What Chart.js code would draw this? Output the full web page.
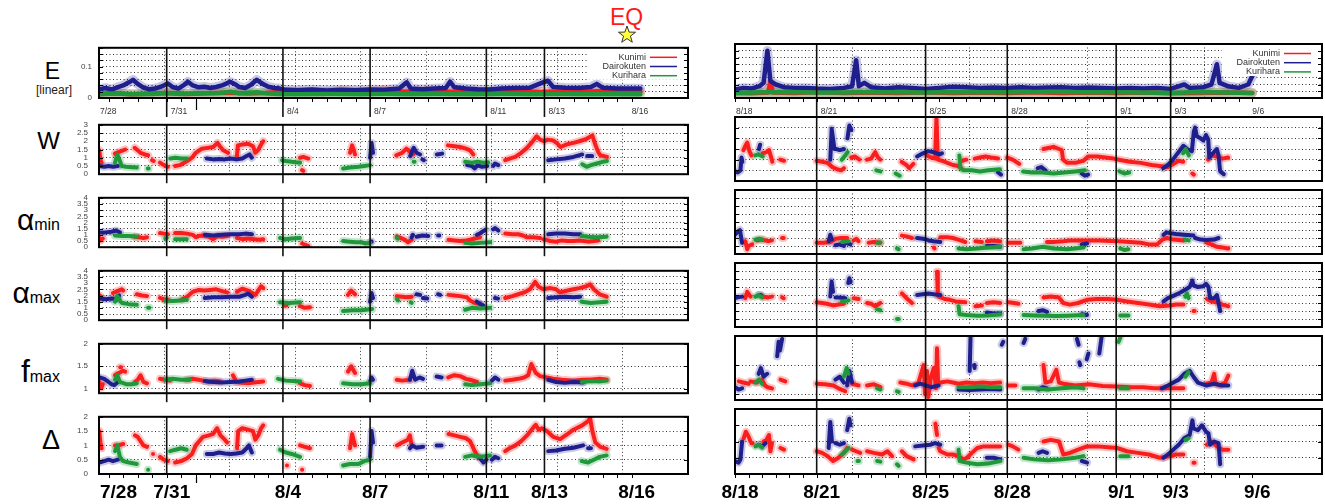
<!DOCTYPE html>
<html><head><meta charset="utf-8">
<script src="https://cdn.jsdelivr.net/npm/chart.js@4"></script>
<style>
html,body{margin:0;padding:0;background:#fff}
body{position:relative;width:1325px;height:504px;overflow:hidden;font-family:"Liberation Sans",Arial,sans-serif}
canvas{position:absolute}
.lab{position:absolute;color:#000;white-space:nowrap}
</style></head><body>
<div class="lab" style="right:1265px;top:60.3px;font-size:23px;line-height:23px">E</div>
<div class="lab" style="left:36px;top:84px;font-size:12px;line-height:12px;color:#222">[linear]</div>
<div class="lab" style="right:1265px;top:128.6px;font-size:24px;line-height:24px">W</div>
<div class="lab" style="right:1265px;top:204.6px;font-size:30px;line-height:30px">α<span style="font-size:16px">min</span></div>
<div class="lab" style="right:1265px;top:277.9px;font-size:30px;line-height:30px">α<span style="font-size:16px">max</span></div>
<div class="lab" style="right:1265px;top:354.6px;font-size:32px;line-height:32px">f<span style="font-size:16px">max</span></div>
<div class="lab" style="right:1265px;top:426.5px;font-size:27px;line-height:27px">Δ</div>
<div class="lab" style="left:610px;top:6.3px;font-size:23px;line-height:23px;color:#ff1a1a">EQ</div>
<svg style="position:absolute;left:616.7px;top:25px" width="20" height="20"><polygon points="10,1 12.12,7.09 18.56,7.22 13.42,11.11 15.29,17.28 10,13.6 4.71,17.28 6.58,11.11 1.44,7.22 7.88,7.09" fill="#ffff3a" stroke="#333" stroke-width="1"/></svg>
<script>
// ---------------- categories / tick labels ----------------
const SERIES = ['Kunimi', 'Dairokuten', 'Kurihara'];
const LEFT_DATES = ['7/28', '7/31', '8/4', '8/7', '8/11', '8/13', '8/16'];
const LEFT_DATE_DAYS = [0, 3, 7, 10, 14, 16, 19];      // days since 7/28 0:00
const RIGHT_DATES = ['8/18', '8/21', '8/25', '8/28', '9/1', '9/3', '9/6'];
const RIGHT_DATE_DAYS = [0, 3, 7, 10, 14, 16, 19];     // days since 8/18 0:00
const LEFT_RANGE = [0.67, 20.94];
const RIGHT_RANGE = [0, 21.56];
const LEFT_MARK_DAYS = [4];

// ---------------- E (linear) ----------------
const E_L_kunimi = [[[0.67,0.013],[1.2,0.015],[1.8,0.012],[2.5,0.014],[3.1,0.016],[3.7,0.013],[4.4,0.015],[5.2,0.017],[5.8,0.014],[6.4,0.016],[7.0,0.02],[7.6,0.021],[8.3,0.019],[9.0,0.022],[9.8,0.02],[10.5,0.023],[11.2,0.02],[12.0,0.022],[12.8,0.019],[13.5,0.021],[14.2,0.02],[15.0,0.022],[15.8,0.019],[16.5,0.021],[17.3,0.02],[18.1,0.022],[18.8,0.02],[19.3,0.02]]];
const E_L_dairokuten = [[[0.67,0.028],[0.9,0.032],[1.1,0.027],[1.3,0.034],[1.5,0.04],[1.7,0.05],[1.84,0.058],[2.0,0.045],[2.2,0.033],[2.4,0.028],[2.6,0.03],[2.8,0.036],[3.04,0.046],[3.2,0.035],[3.4,0.03],[3.6,0.042],[3.73,0.052],[3.9,0.04],[4.1,0.034],[4.3,0.036],[4.5,0.032],[4.7,0.035],[4.9,0.04],[5.05,0.046],[5.18,0.052],[5.35,0.044],[5.5,0.035],[5.7,0.032],[5.9,0.042],[6.1,0.058],[6.3,0.045],[6.5,0.036],[6.7,0.032],[6.9,0.03],[7.1,0.026],[7.5,0.025],[8.0,0.027],[8.5,0.024],[9.0,0.026],[9.5,0.025],[10.0,0.027],[10.5,0.026],[11.0,0.03],[11.26,0.05],[11.4,0.03],[11.8,0.028],[12.2,0.03],[12.6,0.032],[12.75,0.052],[12.9,0.034],[13.3,0.03],[13.7,0.028],[14.1,0.027],[14.5,0.03],[15.0,0.032],[15.5,0.033],[15.95,0.05],[16.12,0.055],[16.3,0.035],[16.7,0.033],[17.2,0.032],[17.6,0.035],[17.8,0.045],[18.0,0.033],[18.5,0.03],[19.0,0.03],[19.3,0.03]]];
const E_L_kurihara = [[[0.67,0.012],[1.2,0.014],[1.8,0.012],[2.5,0.013],[3.0,0.016],[3.5,0.013],[4.2,0.015],[4.8,0.016],[5.2,0.02],[5.5,0.015],[6.1,0.018],[6.5,0.014],[7.0,0.012],[7.5,0.012],[8.5,0.013],[9.5,0.012],[10.5,0.013],[11.5,0.012],[12.5,0.013],[13.5,0.012],[14.5,0.013],[15.5,0.012],[16.5,0.013],[17.5,0.012],[18.5,0.013],[19.3,0.012]]];
const E_R_kunimi = [[[0,0.015],[0.6,0.014],[1.2,0.016],[1.3,0.045],[1.4,0.016],[2.2,0.015],[3.0,0.018],[4.0,0.015],[5.0,0.016],[6.0,0.015],[7.0,0.017],[8.0,0.015],[9.0,0.016],[10.0,0.015],[11.0,0.017],[12.0,0.015],[13.0,0.016],[14.0,0.015],[15.0,0.016],[16.0,0.014],[17.0,0.015],[18.0,0.016],[19.0,0.015]]];
const E_R_dairokuten = [[[0,0.025],[0.3,0.03],[0.6,0.028],[0.9,0.035],[1.05,0.045],[1.19,0.14],[1.3,0.05],[1.5,0.04],[1.8,0.032],[2.2,0.03],[2.6,0.03],[3.0,0.028],[3.5,0.027],[4.0,0.03],[4.3,0.035],[4.45,0.112],[4.55,0.035],[4.75,0.045],[5.0,0.032],[5.5,0.028],[6.0,0.032],[6.5,0.03],[7.0,0.027],[7.5,0.03],[8.0,0.033],[8.5,0.032],[9.0,0.03],[9.5,0.031],[10.0,0.03],[10.5,0.032],[11.0,0.03],[11.5,0.031],[12.0,0.032],[12.5,0.03],[13.0,0.031],[13.5,0.03],[14.0,0.028],[14.5,0.03],[15.0,0.028],[15.5,0.03],[16.0,0.027],[16.5,0.04],[16.7,0.03],[17.2,0.032],[17.5,0.04],[17.6,0.07],[17.7,0.1],[17.8,0.045],[18.1,0.035],[18.5,0.03],[18.85,0.04],[19.0,0.065]]];
const E_R_kurihara = [[[0,0.015],[1.0,0.017],[2.0,0.018],[3.0,0.016],[4.0,0.016],[5.0,0.018],[6.0,0.017],[7.0,0.016],[8.0,0.018],[9.0,0.017],[10.0,0.017],[11.0,0.018],[12.0,0.018],[13.0,0.017],[14.0,0.017],[15.0,0.016],[16.0,0.015],[17.0,0.018],[18.0,0.016],[19.0,0.015]]];

// ---------------- W ----------------
const W_L_kunimi = [
 [[0.68,1.45],[0.72,0.9],[0.76,0.7]],
 [[1.22,1.25],[1.35,1.35],[1.5,1.45],[1.57,1.5]],
 [[1.9,1.6],[2.0,1.45],[2.1,1.3],[2.25,1.2],[2.36,1.15]],
 [[2.5,0.85],[2.55,0.8]],
 [[2.77,0.7],[2.9,0.55],[3.04,0.45]],
 [[3.29,0.5],[3.45,0.55],[3.6,0.7],[3.75,0.85],[3.87,1.0],[4.0,1.3],[4.21,1.55],[4.4,1.6],[4.6,1.65],[4.75,1.9],[4.85,1.65],[4.95,1.45],[5.11,1.3]],
 [[5.41,1.0],[5.45,1.75],[5.6,1.8],[5.8,1.85],[5.97,1.7],[6.05,1.3],[6.14,1.45],[6.25,1.8],[6.32,2.0]],
 [[7.59,1.0],[7.7,1.05],[7.87,0.95]],
 [[7.66,0.25],[7.7,0.2]],
 [[9.31,1.3],[9.38,1.75],[9.43,1.5],[9.48,1.2]],
 [[10.9,1.15],[11.1,1.3],[11.25,1.55],[11.35,1.4],[11.48,1.2]],
 [[12.68,1.75],[12.9,1.7],[13.1,1.65],[13.3,1.55],[13.44,1.45],[13.55,1.2]],
 [[14.65,0.85],[14.8,0.95],[15.0,1.05],[15.2,1.3],[15.4,1.6],[15.55,1.9],[15.73,2.3],[15.85,2.1],[16.0,2.0],[16.1,2.1],[16.3,2.05],[16.45,1.85],[16.55,1.65],[16.75,1.8],[17.0,1.9],[17.2,2.0],[17.45,2.15],[17.65,2.35],[17.75,1.8],[17.85,1.35],[17.92,1.15],[18.15,1.05]]];
const W_L_dairokuten = [
 [[0.68,0.5],[0.85,0.45],[1.0,0.5],[1.15,0.45],[1.32,0.5]],
 [[4.38,0.95],[4.6,0.9],[4.8,0.92],[5.0,0.9],[5.2,0.95],[5.4,0.9],[5.6,0.95],[5.75,1.1],[5.85,1.2],[5.93,1.0]],
 [[10.0,1.0],[10.05,1.9],[10.1,1.3]],
 [[11.38,1.1],[11.5,1.6],[11.6,1.3],[11.72,1.2]],
 [[11.8,0.9],[11.85,0.85]],
 [[12.3,1.2],[12.48,1.25]],
 [[13.34,0.55],[13.5,0.5],[13.6,0.35],[13.7,0.55],[13.85,0.45],[14.03,0.5]],
 [[14.24,0.5],[14.3,0.65],[14.41,0.55]],
 [[16.13,0.85],[16.4,0.9],[16.7,0.95],[17.0,1.05],[17.3,1.2]],
 [[17.47,1.1],[17.64,1.1]]];
const W_L_kurihara = [
 [[1.22,0.7],[1.3,1.2],[1.39,0.8],[1.45,0.5],[1.6,0.45],[1.8,0.42],[1.97,0.4]],
 [[2.35,0.35],[2.38,0.35]],
 [[3.12,0.95],[3.3,1.0],[3.5,0.95],[3.69,0.95]],
 [[6.97,0.85],[7.1,0.8],[7.3,0.75],[7.45,0.72],[7.59,0.7]],
 [[9.07,0.35],[9.3,0.4],[9.6,0.45],[9.8,0.5],[10.0,0.55]],
 [[11.5,0.75],[11.53,0.75]],
 [[13.27,0.75],[13.5,0.7],[13.7,0.75],[13.9,0.7],[14.06,0.72]],
 [[17.3,0.6],[17.45,0.45],[17.6,0.55],[17.8,0.65],[18.0,0.75],[18.15,0.8]]];
const W_R_kunimi = [
 [[0.31,1.45],[0.4,1.7],[0.45,1.8],[0.53,1.4],[0.6,1.2]],
 [[1.02,1.3],[1.15,1.35],[1.25,1.45],[1.33,1.1],[1.37,0.9]],
 [[1.66,1.0],[1.8,0.95]],
 [[3.0,0.95],[3.2,0.9],[3.4,0.85],[3.58,0.65],[3.75,0.55],[3.9,0.5],[4.0,0.6]],
 [[4.27,1.1],[4.4,1.15],[4.57,1.0]],
 [[4.85,1.0],[5.0,1.05],[5.15,1.35],[5.25,1.1],[5.34,1.0]],
 [[6.12,0.9],[6.3,0.75],[6.4,0.6],[6.55,0.8]],
 [[7.04,1.2],[7.2,1.1],[7.35,1.05],[7.4,3.0],[7.45,1.0],[7.6,0.95],[7.8,0.85],[8.0,0.75],[8.2,0.7],[8.31,0.6]],
 [[8.35,0.95],[8.5,1.0]],
 [[8.81,1.05],[9.0,1.1],[9.2,1.15],[9.4,1.1],[9.66,1.05]],
 [[10.0,1.1],[10.2,1.0],[10.44,0.8]],
 [[11.33,1.5],[11.5,1.55],[11.7,1.6],[11.9,1.5],[12.0,1.45],[12.05,1.0],[12.2,0.85],[12.5,0.85],[12.8,0.95],[12.97,1.15],[13.3,1.15],[13.6,1.1],[13.9,1.05],[14.1,1.0],[14.5,0.9],[14.9,0.85],[15.3,0.75],[15.6,0.7],[15.9,0.65],[16.1,0.8],[16.3,0.95],[16.46,0.9]],
 [[16.8,0.35],[16.85,0.3]],
 [[17.38,1.0],[17.5,1.2],[17.7,1.15],[17.9,1.05],[18.11,1.1]]];
const W_R_dairokuten = [
 [[0.0,0.45],[0.1,0.4],[0.2,0.5],[0.24,1.1],[0.27,0.9]],
 [[0.88,1.5],[0.92,1.7]],
 [[3.5,1.0],[3.55,2.45],[3.6,2.0],[3.65,1.5]],
 [[3.71,1.5],[3.85,1.45],[4.0,1.5]],
 [[4.13,2.0],[4.2,2.6],[4.27,2.4]],
 [[6.69,1.15],[6.9,1.3],[7.1,1.4],[7.3,1.35],[7.5,1.25],[7.6,1.3]],
 [[9.66,0.4],[9.77,0.3]],
 [[11.12,0.6],[11.25,0.65],[11.4,0.5]],
 [[12.74,0.35],[12.85,0.25],[12.97,0.3]],
 [[15.73,0.6],[15.9,0.75],[16.05,0.95],[16.2,1.2],[16.35,1.45],[16.47,1.65],[16.6,1.5],[16.78,1.4],[16.85,2.3],[16.9,2.5],[16.96,2.1],[17.1,2.0],[17.2,1.9],[17.3,2.15],[17.38,1.95],[17.42,1.1],[17.55,1.3],[17.7,1.5],[17.76,1.2],[17.82,0.45],[17.95,0.32]]];
const W_R_kurihara = [
 [[0.74,1.2],[0.85,1.25],[1.02,1.15]],
 [[3.92,1.0],[4.05,1.2],[4.14,1.35]],
 [[5.19,0.5],[5.34,0.45]],
 [[5.9,0.35],[6.05,0.25]],
 [[8.24,1.2],[8.28,0.6],[8.4,0.5],[8.7,0.5],[9.0,0.45],[9.3,0.5],[9.73,0.55]],
 [[10.58,0.45],[10.9,0.4],[11.3,0.4],[11.7,0.35],[12.1,0.4],[12.5,0.45],[12.85,0.5]],
 [[14.12,0.45],[14.3,0.35],[14.48,0.4]],
 [[16.46,1.3],[16.55,1.5],[16.67,1.2]]];

// ---------------- alpha min ----------------
const AMIN_L_kunimi = [
 [[0.65,0.9],[0.72,0.55],[0.8,0.7]],
 [[1.91,0.85],[2.05,0.8],[2.2,0.75],[2.32,0.8]],
 [[2.77,1.15],[2.9,1.1],[3.04,1.05]],
 [[3.29,1.15],[3.5,1.15],[3.7,1.1],[3.9,1.0],[4.0,0.8],[4.1,0.9],[4.25,0.95],[4.45,0.85],[4.6,0.65],[4.75,0.9],[4.9,0.85],[5.08,0.9]],
 [[5.42,0.75],[5.6,0.65],[5.8,0.7],[6.0,0.65],[6.2,0.6],[6.32,0.65]],
 [[7.66,0.3],[7.75,0.2],[7.87,0.1]],
 [[10.92,0.85],[11.05,0.75],[11.2,0.6],[11.3,0.4],[11.43,0.6]],
 [[12.7,0.6],[12.9,0.55],[13.1,0.5],[13.3,0.55],[13.44,0.6],[13.6,0.7],[13.78,0.8]],
 [[14.65,1.1],[14.9,1.05],[15.1,1.05],[15.26,0.95],[15.4,0.8],[15.6,0.8],[15.85,0.75]],
 [[15.96,0.65],[16.2,0.5],[16.4,0.45],[16.6,0.55],[16.8,0.5],[17.0,0.5],[17.2,0.55],[17.5,0.45],[17.7,0.5],[17.85,0.55]]];
const AMIN_L_dairokuten = [
 [[0.7,1.2],[0.9,1.2],[1.1,1.25],[1.25,1.35],[1.39,1.2]],
 [[4.31,1.0],[4.6,0.95],[4.9,1.0],[5.2,1.05],[5.5,1.05],[5.7,1.1],[5.93,1.05]],
 [[10.0,0.4],[10.05,0.45]],
 [[11.43,0.8],[11.47,1.0]],
 [[11.6,0.85],[11.8,0.95],[12.0,0.9]],
 [[12.34,0.95],[12.38,0.95]],
 [[13.68,1.0],[13.8,1.15],[13.96,1.4]],
 [[14.24,1.45],[14.3,1.55],[14.41,1.35]],
 [[16.13,1.05],[16.4,1.1],[16.7,1.1],[17.0,1.05],[17.23,1.05]]];
const AMIN_L_kurihara = [
 [[1.22,0.95],[1.5,0.9],[1.7,0.9],[1.97,0.85]],
 [[2.95,0.7],[3.0,0.75]],
 [[3.29,0.65],[3.5,0.65],[3.69,0.65]],
 [[6.9,0.75],[7.1,0.65],[7.3,0.7],[7.59,0.75]],
 [[9.07,0.5],[9.3,0.45],[9.5,0.4],[9.7,0.4],[9.85,0.3],[10.0,0.35]],
 [[10.92,0.75],[10.96,0.7]],
 [[13.27,0.35],[13.5,0.3],[13.8,0.35],[14.13,0.4]],
 [[17.28,0.9],[17.5,0.85],[17.8,0.8],[18.14,0.85]]];
const AMIN_R_kunimi = [
 [[0.38,0.8],[0.45,0.3],[0.5,0.5],[0.63,0.6]],
 [[0.81,0.85],[1.0,0.9],[1.2,0.8],[1.36,0.85]],
 [[1.73,1.0],[1.79,1.0]],
 [[3.0,0.7],[3.25,0.7],[3.5,0.75],[3.7,0.95],[3.9,1.0],[4.12,1.0]],
 [[4.36,0.85],[4.45,0.95],[4.54,0.8]],
 [[4.91,0.7],[5.1,0.75],[5.34,0.7]],
 [[6.13,1.15],[6.3,1.1],[6.5,1.0]],
 [[7.3,0.4],[7.33,0.35]],
 [[7.54,1.05],[7.8,1.05],[8.0,1.0],[8.2,0.9],[8.46,0.75]],
 [[8.83,0.8],[9.07,0.75]],
 [[9.25,0.8],[9.5,0.85],[9.74,0.8]],
 [[10.05,0.7],[10.25,0.7],[10.48,0.7]],
 [[11.46,0.75],[11.7,0.75],[12.06,0.8],[12.3,0.85],[12.6,0.85],[13.0,0.85],[13.4,0.85],[13.8,0.82],[14.1,0.8],[14.5,0.75],[14.9,0.7],[15.2,0.6],[15.5,0.6],[15.7,0.9],[15.86,1.0],[16.1,0.9],[16.47,0.85]],
 [[17.33,0.7],[17.5,0.6],[17.7,0.45],[17.9,0.4],[18.12,0.35]]];
const AMIN_R_dairokuten = [
 [[0.0,1.2],[0.1,1.4],[0.18,1.5],[0.22,1.1],[0.26,0.7]],
 [[3.44,0.8],[3.5,1.2],[3.56,0.9]],
 [[3.69,0.55],[3.85,0.6],[4.0,0.5]],
 [[4.06,0.7],[4.24,0.6]],
 [[6.69,1.0],[6.9,0.95],[7.05,0.9]],
 [[7.11,0.85],[7.3,0.8],[7.54,0.75]],
 [[9.25,0.5],[9.5,0.5],[9.74,0.45]],
 [[12.74,0.6],[12.93,0.65]],
 [[15.74,1.2],[15.85,1.35],[16.0,1.3],[16.2,1.25],[16.5,1.2],[16.84,1.15]],
 [[16.9,1.0],[17.1,0.9],[17.3,0.88],[17.6,0.9],[17.76,1.0]]];
const AMIN_R_kurihara = [
 [[0.75,0.9],[0.88,0.95],[1.0,0.9]],
 [[3.93,0.75],[4.17,0.8]],
 [[5.22,0.7],[5.34,0.72]],
 [[5.95,0.35],[6.01,0.3]],
 [[8.21,0.35],[8.5,0.3],[8.9,0.35],[9.3,0.4],[9.74,0.45]],
 [[10.6,0.3],[10.9,0.35],[11.3,0.45],[11.7,0.35],[12.2,0.3],[12.5,0.35],[12.8,0.4]],
 [[14.15,0.35],[14.3,0.25],[14.45,0.3]],
 [[16.54,0.9],[16.66,0.85]]];

// ---------------- alpha max ----------------
const AMAX_L_kunimi = [
 [[0.65,1.6],[0.7,2.0],[0.77,1.8]],
 [[1.15,2.2],[1.3,2.35],[1.45,2.5],[1.5,2.4]],
 [[1.97,2.1],[2.15,2.0],[2.32,1.95]],
 [[2.77,1.8],[2.9,1.7],[3.04,1.65]],
 [[3.53,1.7],[3.7,1.9],[3.9,2.3],[4.1,2.45],[4.3,2.4],[4.5,2.45],[4.7,2.5],[4.9,2.35],[5.08,2.25]],
 [[5.42,2.3],[5.6,2.55],[5.8,2.4],[5.95,2.2],[6.05,2.05],[6.15,2.4],[6.25,2.75],[6.32,2.6]],
 [[7.08,1.2],[7.12,1.2]],
 [[7.59,1.15],[7.75,1.0],[7.93,1.05]],
 [[9.24,2.05],[9.35,2.4],[9.48,2.1]],
 [[10.92,1.95],[11.1,1.9],[11.25,1.85],[11.43,1.9]],
 [[12.7,2.05],[12.9,2.0],[13.1,1.95],[13.33,1.85],[13.44,1.6],[13.6,1.4],[13.78,1.3]],
 [[14.65,1.8],[14.9,1.95],[15.1,2.1],[15.3,2.25],[15.5,2.5],[15.68,3.1],[15.8,2.7],[15.96,2.5],[16.2,2.6],[16.4,2.5],[16.54,2.25],[16.8,2.4],[17.0,2.5],[17.2,2.6],[17.45,2.75],[17.57,2.9],[17.7,2.5],[17.9,2.1],[18.14,1.9]]];
const AMAX_L_dairokuten = [
 [[0.7,1.75],[0.9,1.7],[1.1,1.75],[1.32,1.7],[1.36,2.0]],
 [[4.31,1.8],[4.6,1.85],[4.9,1.85],[5.2,1.9],[5.5,1.9],[5.7,2.05],[5.8,2.15],[5.93,1.9]],
 [[10.0,1.5],[10.05,2.2],[10.1,1.8]],
 [[11.6,2.1],[11.72,2.05]],
 [[11.82,1.8],[11.96,1.75]],
 [[12.34,2.1],[12.41,2.05]],
 [[13.67,1.5],[13.8,1.3],[13.89,1.2]],
 [[14.3,1.8],[14.4,1.75]],
 [[16.13,1.8],[16.4,1.85],[16.7,1.9],[17.0,1.85],[17.23,1.9]]];
const AMAX_L_kurihara = [
 [[1.22,1.5],[1.3,1.95],[1.4,1.55],[1.46,1.4],[1.7,1.3],[1.97,1.25]],
 [[2.36,1.0],[2.4,1.0]],
 [[2.94,1.6],[3.2,1.55],[3.45,1.6],[3.69,1.65]],
 [[6.9,1.45],[7.2,1.4],[7.59,1.45]],
 [[9.07,0.75],[9.4,0.8],[9.7,0.8],[10.07,0.9]],
 [[10.92,1.7],[10.96,1.6]],
 [[11.4,1.45],[11.43,1.4]],
 [[13.27,0.85],[13.5,1.0],[13.8,0.95],[14.13,1.0]],
 [[17.28,1.5],[17.6,1.4],[17.9,1.45],[18.14,1.5]]];
const AMAX_R_kunimi = [
 [[0.38,1.8],[0.45,2.2],[0.57,1.9]],
 [[1.0,1.9],[1.2,1.85],[1.36,1.9]],
 [[1.73,1.85],[1.79,1.8]],
 [[3.0,1.55],[3.2,1.5],[3.38,1.45],[3.6,1.35],[3.8,1.4],[4.0,1.45]],
 [[4.36,1.8],[4.54,1.75]],
 [[4.85,1.5],[5.0,1.45],[5.15,1.3],[5.34,1.5]],
 [[6.13,2.1],[6.3,1.8],[6.5,1.5]],
 [[7.42,3.45],[7.45,1.95]],
 [[7.48,1.9],[7.7,1.75],[7.9,1.7],[8.1,1.6],[8.46,1.55]],
 [[8.83,1.3],[9.07,1.35]],
 [[9.25,1.5],[9.5,1.55],[9.74,1.5]],
 [[10.05,1.55],[10.25,1.5],[10.41,1.45]],
 [[11.33,1.85],[11.6,1.9],[11.9,1.85],[12.06,1.5],[12.3,1.4],[12.6,1.5],[12.93,1.7],[13.3,1.75],[13.7,1.75],[14.03,1.7],[14.4,1.6],[14.8,1.5],[15.2,1.4],[15.6,1.3],[15.98,1.35],[16.2,1.4],[16.47,1.4]],
 [[16.84,1.0],[16.88,1.0]],
 [[17.33,1.75],[17.5,1.6],[17.7,1.55],[17.9,1.4],[18.12,1.3]]];
const AMAX_R_dairokuten = [
 [[0.0,1.8],[0.1,1.85],[0.26,1.9]],
 [[0.88,2.0],[0.95,2.0]],
 [[3.5,1.9],[3.55,2.85],[3.6,2.2]],
 [[3.69,1.85],[3.85,1.85],[4.05,1.8]],
 [[4.16,2.75],[4.2,3.05],[4.24,2.8]],
 [[6.69,2.0],[6.9,2.05],[7.1,2.1],[7.3,2.05],[7.54,2.0]],
 [[9.25,0.9],[9.5,0.85],[9.74,0.85]],
 [[11.15,1.0],[11.3,1.05],[11.46,0.95]],
 [[12.74,0.8],[12.93,0.75]],
 [[15.74,1.6],[15.9,1.8],[16.1,1.95],[16.3,2.1],[16.5,2.3],[16.7,2.5],[16.8,2.9],[16.84,2.6],[17.0,2.5],[17.2,2.55],[17.3,2.7],[17.39,2.5],[17.45,1.8],[17.6,1.8],[17.7,2.0],[17.76,1.5],[17.82,1.0]]];
const AMAX_R_kurihara = [
 [[0.75,1.9],[0.88,2.0],[1.0,1.85]],
 [[3.93,1.6],[4.17,1.65]],
 [[5.22,1.1],[5.34,1.05]],
 [[5.95,0.5],[6.01,0.5]],
 [[8.21,1.3],[8.25,0.8],[8.5,0.75],[8.9,0.7],[9.3,0.72],[9.74,0.8]],
 [[10.6,0.75],[11.0,0.72],[11.4,0.7],[11.8,0.68],[12.2,0.7],[12.8,0.75]],
 [[14.15,0.72],[14.45,0.72]],
 [[16.54,1.9],[16.6,2.1],[16.66,1.8]]];

// ---------------- f max ----------------
const FMAX_L_kunimi = [
 [[0.68,1.15],[0.75,1.02],[0.8,1.1]],
 [[1.22,1.3],[1.35,1.35],[1.5,1.4],[1.57,1.38]],
 [[1.4,1.48],[1.43,1.48]],
 [[1.91,1.15],[2.0,1.2],[2.1,1.3],[2.2,1.15],[2.32,1.12]],
 [[2.77,1.22],[2.95,1.2],[3.11,1.18]],
 [[3.69,1.2],[3.9,1.22],[4.1,1.2],[4.25,1.18],[4.45,1.15],[4.65,1.18],[4.83,1.16]],
 [[5.28,1.3],[5.4,1.15],[5.6,1.13],[5.8,1.12],[6.0,1.14],[6.32,1.16]],
 [[7.59,1.12],[7.75,1.08],[7.93,1.06]],
 [[9.24,1.38],[9.35,1.5],[9.48,1.35]],
 [[10.92,1.2],[11.1,1.18],[11.37,1.2]],
 [[12.69,1.25],[12.9,1.3],[13.1,1.28],[13.3,1.22],[13.44,1.2],[13.68,1.15]],
 [[14.65,1.18],[14.9,1.2],[15.1,1.22],[15.3,1.25],[15.44,1.3],[15.55,1.55],[15.7,1.35],[15.85,1.28],[16.08,1.25],[16.3,1.22],[16.6,1.2],[17.0,1.18],[17.3,1.2],[17.6,1.2],[17.9,1.22],[18.14,1.2]]];
const FMAX_L_dairokuten = [
 [[0.7,1.25],[0.85,1.22],[1.0,1.15],[1.1,1.1],[1.2,1.08],[1.32,1.15]],
 [[4.31,1.17],[4.6,1.15],[4.9,1.14],[5.2,1.15],[5.5,1.16],[5.7,1.18],[5.93,1.2]],
 [[10.0,1.15],[10.05,1.25],[10.1,1.2]],
 [[11.37,1.2],[11.45,1.4],[11.55,1.2],[11.7,1.25],[11.82,1.22]],
 [[12.29,1.27],[12.46,1.25]],
 [[14.19,1.18],[14.3,1.25],[14.41,1.2]],
 [[16.13,1.2],[16.4,1.15],[16.7,1.13],[17.0,1.15],[17.33,1.14]]];
const FMAX_L_kurihara = [
 [[1.22,1.2],[1.3,1.3],[1.39,1.15],[1.6,1.1],[1.8,1.1],[1.97,1.12]],
 [[2.94,1.2],[3.2,1.22],[3.5,1.2],[3.8,1.2]],
 [[6.83,1.22],[7.1,1.18],[7.35,1.17],[7.59,1.16]],
 [[9.07,1.12],[9.4,1.1],[9.7,1.1],[10.0,1.12]],
 [[13.27,1.1],[13.5,1.08],[13.8,1.1],[14.13,1.12]],
 [[17.28,1.15],[17.6,1.17],[17.9,1.16],[18.14,1.18]]];
const FMAX_R_kunimi = [
 [[0.14,1.22],[0.3,1.2],[0.5,1.18]],
 [[0.57,1.22],[0.81,1.2]],
 [[0.99,1.25],[1.1,1.15],[1.2,1.12],[1.36,1.1]],
 [[1.67,1.25],[1.85,1.22]],
 [[3.0,1.18],[3.3,1.17],[3.62,1.15],[3.8,1.1],[4.05,1.05]],
 [[4.3,1.18],[4.54,1.15]],
 [[4.85,1.15],[5.1,1.17],[5.34,1.12]],
 [[6.07,1.2],[6.3,1.18],[6.5,1.15],[6.69,1.18]],
 [[6.74,1.2],[6.93,1.5],[6.98,1.0],[7.05,1.4],[7.1,0.95],[7.2,1.3],[7.3,1.45],[7.38,1.1],[7.42,1.79],[7.46,1.2],[7.54,1.2],[7.8,1.22],[8.0,1.2],[8.21,1.18],[8.5,1.2],[8.8,1.19],[9.1,1.2],[9.4,1.19],[9.74,1.2]],
 [[10.05,1.15],[10.3,1.15]],
 [[11.33,1.5],[11.4,1.2],[11.6,1.22],[11.8,1.42],[11.9,1.2],[12.06,1.18],[12.5,1.15],[13.0,1.17],[13.5,1.14],[14.0,1.13],[14.5,1.12],[15.0,1.12],[15.4,1.1],[15.74,1.1],[16.1,1.1],[16.47,1.1]],
 [[17.33,1.18],[17.5,1.2],[17.6,1.35],[17.65,1.18],[17.8,1.15],[18.0,1.2],[18.12,1.32]]];
const FMAX_R_dairokuten = [
 [[0.0,1.12],[0.13,1.08],[0.26,1.1]],
 [[0.87,1.35],[0.95,1.45],[1.05,1.3],[1.18,1.35]],
 [[1.55,1.65],[1.6,1.9],[1.65,1.75],[1.73,1.95]],
 [[3.69,1.25],[3.85,1.3],[4.0,1.2]],
 [[4.12,1.15],[4.2,1.4],[4.3,1.2]],
 [[6.62,1.15],[6.8,1.18],[7.0,1.15],[7.2,1.12],[7.48,1.15]],
 [[8.21,1.08],[8.6,1.07],[9.0,1.08],[9.4,1.09],[9.74,1.08]],
 [[8.62,1.4],[8.65,1.97]],
 [[8.78,1.5],[8.8,1.45]],
 [[9.8,1.85],[9.85,1.9]],
 [[10.6,1.88],[10.66,1.95]],
 [[11.15,1.08],[11.3,1.12],[11.46,1.1]],
 [[12.56,1.95],[12.62,1.85]],
 [[12.65,1.55],[12.68,1.5]],
 [[12.92,1.6],[12.98,1.7]],
 [[13.38,1.7],[13.47,2.0]],
 [[15.68,1.1],[15.9,1.15],[16.1,1.2],[16.3,1.25],[16.5,1.35],[16.7,1.4],[16.84,1.3],[17.0,1.2],[17.3,1.15],[17.6,1.18],[17.9,1.15],[18.12,1.15]]];
const FMAX_R_kurihara = [
 [[0.75,1.2],[0.88,1.25],[1.0,1.18]],
 [[4.0,1.3],[4.1,1.45],[4.17,1.35]],
 [[5.22,1.1],[5.34,1.08]],
 [[5.95,1.05],[6.01,1.04]],
 [[8.21,1.12],[8.6,1.12],[9.0,1.13],[9.4,1.12],[9.74,1.12]],
 [[10.6,1.1],[11.0,1.1],[11.5,1.08],[12.0,1.1],[12.5,1.12],[12.8,1.1]],
 [[14.09,1.9],[14.15,1.97]],
 [[14.15,1.1],[14.45,1.1]],
 [[16.54,1.3],[16.66,1.38]]];

// ---------------- Delta ----------------
const D_L_kunimi = [
 [[0.68,1.5],[0.72,1.1],[0.76,0.9]],
 [[1.22,1.0],[1.35,1.0],[1.5,1.05]],
 [[1.91,1.35],[2.0,1.3],[2.1,1.15],[2.2,1.0],[2.32,0.95]],
 [[2.53,0.7],[2.56,0.7]],
 [[2.77,0.6],[2.9,0.5],[3.04,0.45]],
 [[3.29,0.4],[3.5,0.45],[3.7,0.55],[3.87,0.7],[4.0,1.0],[4.25,1.3],[4.45,1.35],[4.6,1.4],[4.73,1.6],[4.85,1.35],[5.0,1.2],[5.08,1.1]],
 [[5.42,0.9],[5.46,1.5],[5.6,1.6],[5.8,1.55],[5.97,1.5],[6.05,1.2],[6.15,1.35],[6.25,1.6],[6.32,1.7]],
 [[7.14,0.3],[7.17,0.3]],
 [[7.59,1.0],[7.75,0.95],[7.93,0.9]],
 [[7.66,0.15],[7.69,0.15]],
 [[9.31,0.9],[9.38,1.4],[9.43,1.2],[9.48,1.0]],
 [[10.92,1.0],[11.1,1.1],[11.3,1.2],[11.37,1.35],[11.43,1.0]],
 [[12.7,1.4],[12.9,1.35],[13.1,1.3],[13.3,1.25],[13.44,1.15],[13.6,0.8],[13.72,0.6]],
 [[14.65,0.8],[14.8,0.9],[15.0,1.0],[15.2,1.15],[15.4,1.35],[15.62,1.63],[15.7,1.72],[15.8,1.55],[15.91,1.6],[16.08,1.5],[16.3,1.3],[16.54,1.22],[16.8,1.4],[17.0,1.55],[17.3,1.7],[17.5,1.85],[17.57,1.95],[17.65,1.5],[17.75,1.1],[17.92,0.95],[18.14,0.88]]];
const D_L_dairokuten = [
 [[0.68,0.4],[0.85,0.45],[1.0,0.5],[1.15,0.45],[1.32,0.5]],
 [[4.38,0.7],[4.6,0.7],[4.8,0.75],[5.0,0.72],[5.2,0.7],[5.4,0.72],[5.6,0.75],[5.75,0.9],[5.83,1.0],[5.93,0.75]],
 [[10.0,0.6],[10.05,1.5],[10.1,1.1]],
 [[11.37,0.9],[11.45,1.0],[11.6,0.92],[11.82,0.95]],
 [[12.29,1.0],[12.46,1.0]],
 [[13.78,0.55],[13.9,0.4],[14.0,0.5]],
 [[14.19,0.5],[14.3,0.6],[14.41,0.55]],
 [[16.13,0.8],[16.4,0.82],[16.7,0.88],[17.0,0.92],[17.33,1.0]],
 [[17.5,0.9],[17.6,0.9]]];
const D_L_kurihara = [
 [[1.22,0.8],[1.3,1.0],[1.39,0.6],[1.5,0.45],[1.7,0.4],[1.97,0.35]],
 [[2.36,0.15],[2.39,0.15]],
 [[3.12,0.8],[3.3,0.85],[3.5,0.9],[3.69,0.85]],
 [[6.9,0.85],[7.1,0.75],[7.3,0.7],[7.59,0.6]],
 [[9.07,0.3],[9.3,0.35],[9.6,0.35],[9.8,0.45],[10.0,0.5]],
 [[13.27,0.6],[13.5,0.65],[13.8,0.6],[14.13,0.65]],
 [[17.28,0.45],[17.5,0.4],[17.7,0.5],[17.9,0.6],[18.14,0.65]]];
const D_R_kunimi = [
 [[0.32,1.1],[0.4,1.3],[0.5,1.15],[0.57,1.0]],
 [[0.6,0.95],[0.65,0.95]],
 [[1.05,1.0],[1.15,1.05],[1.25,1.2],[1.3,0.7],[1.36,0.95]],
 [[1.67,0.8],[1.8,0.75]],
 [[3.0,0.7],[3.2,0.65],[3.4,0.55],[3.6,0.4],[3.8,0.5],[4.0,0.65],[4.12,0.8]],
 [[4.3,0.75],[4.45,0.7],[4.6,0.65]],
 [[4.85,0.7],[5.1,0.65],[5.4,0.6],[5.6,0.7],[5.77,0.55]],
 [[6.13,0.7],[6.3,0.55],[6.56,0.45]],
 [[7.36,1.55],[7.42,1.2]],
 [[7.48,0.8],[7.54,0.7],[7.8,0.6],[8.0,0.6],[8.21,0.55],[8.4,0.45],[8.52,0.5],[8.7,0.65],[8.9,0.8],[9.13,0.85],[9.4,0.85],[9.74,0.85]],
 [[10.05,0.9],[10.2,0.85],[10.41,0.75]],
 [[11.33,1.0],[11.6,1.05],[11.9,1.0],[12.06,0.6],[12.3,0.65],[12.6,0.75],[12.93,0.85],[13.3,0.85],[13.7,0.82],[14.03,0.8],[14.4,0.7],[14.8,0.65],[15.2,0.6],[15.6,0.5],[15.98,0.55],[16.2,0.6],[16.47,0.6]],
 [[16.84,0.35],[16.88,0.35]],
 [[17.33,0.9],[17.5,1.0],[17.7,0.85],[17.9,0.75],[18.12,0.75]]];
const D_R_dairokuten = [
 [[0.0,0.4],[0.13,0.35],[0.2,0.45],[0.26,1.0]],
 [[0.87,0.9],[1.0,0.85],[1.12,0.95]],
 [[3.44,0.8],[3.5,1.6],[3.56,1.0]],
 [[3.69,0.95],[3.85,0.9],[4.0,0.95]],
 [[4.12,1.35],[4.2,1.7],[4.24,1.5]],
 [[6.62,0.85],[6.9,0.88],[7.17,0.9],[7.35,0.95],[7.54,0.9]],
 [[9.25,0.5],[9.5,0.5],[9.74,0.45]],
 [[11.15,0.65],[11.3,0.7],[11.46,0.65]],
 [[12.74,0.4],[12.93,0.35]],
 [[15.74,0.5],[15.9,0.6],[16.1,0.75],[16.3,0.9],[16.5,1.1],[16.7,1.2],[16.8,1.65],[16.84,1.4],[17.0,1.35],[17.15,1.5],[17.3,1.3],[17.39,1.25],[17.45,0.9],[17.6,1.0],[17.76,0.95],[17.82,0.3]]];
const D_R_kurihara = [
 [[0.75,0.85],[0.88,0.9],[1.0,0.82]],
 [[3.93,0.6],[4.17,0.8]],
 [[4.5,0.4],[4.55,0.4]],
 [[5.22,0.4],[5.34,0.38]],
 [[5.95,0.3],[6.01,0.25]],
 [[8.21,0.75],[8.25,0.4],[8.5,0.35],[8.9,0.3],[9.3,0.32],[9.74,0.4]],
 [[10.6,0.5],[11.0,0.45],[11.5,0.42],[12.0,0.45],[12.5,0.5],[12.8,0.55]],
 [[14.15,0.55],[14.45,0.55]],
 [[16.54,1.05],[16.66,1.1]]];

// ---------------- rendering ----------------
const COLORS = {Kunimi: '#f81e1e', Dairokuten: '#1e1e8c', Kurihara: '#1f973a'};
const HALO = {Kunimi: 'rgba(248,40,40,0.28)', Dairokuten: 'rgba(40,40,150,0.25)', Kurihara: 'rgba(40,160,70,0.28)'};
const FONT = '"Liberation Sans", Arial, sans-serif';

const ROWS = [
  {min: 0, max: 0.16, step: 0.02, labelVals: [0, 0.1], top: 44, bottom: 98, gap: 19, isE: true,
   L: [E_L_kunimi, E_L_dairokuten, E_L_kurihara], R: [E_R_kunimi, E_R_dairokuten, E_R_kurihara]},
  {min: 0, max: 3, step: 0.5, top: 117, bottom: 181, gap: 9,
   L: [W_L_kunimi, W_L_dairokuten, W_L_kurihara], R: [W_R_kunimi, W_R_dairokuten, W_R_kurihara]},
  {min: 0, max: 4, step: 0.5, top: 190, bottom: 254, gap: 9,
   L: [AMIN_L_kunimi, AMIN_L_dairokuten, AMIN_L_kurihara], R: [AMIN_R_kunimi, AMIN_R_dairokuten, AMIN_R_kurihara]},
  {min: 0, max: 4, step: 0.5, top: 263, bottom: 327, gap: 9,
   L: [AMAX_L_kunimi, AMAX_L_dairokuten, AMAX_L_kurihara], R: [AMAX_R_kunimi, AMAX_R_dairokuten, AMAX_R_kurihara]},
  {min: 0.9, max: 2, fixedTicks: [1, 1.5, 2], top: 336, bottom: 400, gap: 9,
   L: [FMAX_L_kunimi, FMAX_L_dairokuten, FMAX_L_kurihara], R: [FMAX_R_kunimi, FMAX_R_dairokuten, FMAX_R_kurihara]},
  {min: 0, max: 2, step: 0.5, top: 409, bottom: 474, gap: 0, isBottom: true,
   L: [D_L_kunimi, D_L_dairokuten, D_L_kurihara], R: [D_R_kunimi, D_R_dairokuten, D_R_kurihara]}
];

function toPts(segs) {
  const out = [];
  segs.forEach(s => {
    s.forEach(p => out.push({x: p[0], y: p[1]}));
    out.push({x: s[s.length - 1][0], y: null});
  });
  return out;
}

const decor = {
  id: 'decor',
  afterDatasetsDraw(chart, args, o) {
    const {ctx, chartArea: a, scales: {x, y}} = chart;
    ctx.save();
    if (o.legend) {
      ctx.fillStyle = '#fff';
      ctx.fillRect(a.right - 100, a.top + 1, 99, 31);
      ctx.font = '9px ' + FONT;
      ctx.textAlign = 'right';
      ctx.textBaseline = 'middle';
      SERIES.forEach((n, i) => {
        const yy = a.top + 9.5 + i * 9.2;
        ctx.fillStyle = '#333';
        ctx.fillText(n, a.right - 42, yy);
        ctx.strokeStyle = COLORS[n];
        ctx.lineWidth = 1.5;
        ctx.beginPath(); ctx.moveTo(a.right - 38, yy); ctx.lineTo(a.right - 11, yy); ctx.stroke();
      });
    }
    ctx.strokeStyle = '#111';
    ctx.lineWidth = 1.6;
    o.days.slice(1, -1).forEach(d => {
      const px = x.getPixelForValue(d);
      ctx.beginPath(); ctx.moveTo(px, a.top); ctx.lineTo(px, a.bottom + o.gap); ctx.stroke();
    });
    ctx.lineWidth = 2;
    ctx.strokeStyle = '#000';
    ctx.strokeRect(a.left, a.top, a.right - a.left, a.bottom - a.top);
    ctx.lineWidth = 1;
    y.ticks.forEach(t => {
      const py = Math.round(y.getPixelForValue(t.value)) + 0.5;
      ctx.beginPath();
      ctx.moveTo(a.left, py); ctx.lineTo(a.left + 4, py);
      ctx.moveTo(a.right - 4, py); ctx.lineTo(a.right, py);
      ctx.stroke();
    });
    if (o.timeTicks) {
      const last = o.days[o.days.length - 1];
      for (let d = Math.ceil(x.min * 2) / 2; d <= last + 1e-6; d += 0.5) {
        const px = Math.round(x.getPixelForValue(d)) + 0.5;
        ctx.beginPath(); ctx.moveTo(px, a.bottom + 1); ctx.lineTo(px, a.bottom + 4); ctx.stroke();
      }
      (o.marks || []).forEach(d => {
        const px = Math.round(x.getPixelForValue(d)) + 0.5;
        ctx.lineWidth = 1.2;
        ctx.beginPath(); ctx.moveTo(px, a.bottom + (o.legend ? 2 : 3)); ctx.lineTo(px, a.bottom + (o.legend ? 12 : 9)); ctx.stroke();
      });
    }
    if (o.smallDates) {
      ctx.font = '8.5px ' + FONT;
      ctx.fillStyle = '#333';
      ctx.textAlign = 'left';
      ctx.textBaseline = 'alphabetic';
      o.labels.forEach((lab, i) => {
        const d = o.days[i];
        let px;
        if (d <= x.min + 0.01) px = a.left + 1;
        else px = x.getPixelForValue(d) + (i === o.labels.length - 1 ? 0 : 4);
        ctx.fillText(lab, px, a.bottom + 16);
      });
    }
    if (o.bigDates) {
      ctx.font = 'bold 19px ' + FONT;
      ctx.fillStyle = '#000';
      ctx.textAlign = 'center';
      ctx.textBaseline = 'alphabetic';
      o.labels.forEach((lab, i) => {
        const d = o.days[i];
        const w = ctx.measureText(lab).width;
        let px = x.getPixelForValue(d) + 5;
        if (d < x.min) px = a.left + w / 2 + 1;
        ctx.fillText(lab, px, a.bottom + 24);
      });
    }
    ctx.restore();
  }
};

function makeChart(row, side) {
  const left = side === 'L';
  const cvLeft = left ? 0 : 700;
  const cvW = left ? 700 : 625;
  const yW = left ? 99 : 35;
  const padR = left ? 12 : 3;
  const cvTop = row.top - 8;
  const cvBottom = row.isE ? 120 : (row.isBottom ? 504 : row.bottom + row.gap);
  const cvH = cvBottom - cvTop;
  const panelH = row.bottom - row.top;
  const range = left ? LEFT_RANGE : RIGHT_RANGE;
  const nDiv = left ? 9 : 5;
  const days = left ? LEFT_DATE_DAYS : RIGHT_DATE_DAYS;
  const labels = left ? LEFT_DATES : RIGHT_DATES;

  const cv = document.createElement('canvas');
  cv.width = cvW; cv.height = cvH;
  cv.style.left = cvLeft + 'px'; cv.style.top = cvTop + 'px';
  cv.style.width = cvW + 'px'; cv.style.height = cvH + 'px';
  document.body.appendChild(cv);

  const series = row[side];
  const mainW = row.isE ? 4.5 : 4;
  const base = {pointRadius: 0, tension: 0, spanGaps: false, clip: 0, borderCapStyle: 'round', borderJoinStyle: 'round'};
  // draw order: Kurihara on top, then Dairokuten, then Kunimi; halos underneath
  const mains = [2, 1, 0].map(i => Object.assign({
    label: SERIES[i], data: toPts(series[i]),
    borderColor: COLORS[SERIES[i]], backgroundColor: COLORS[SERIES[i]], borderWidth: mainW
  }, base));
  const halos = [2, 1, 0].map(i => Object.assign({
    label: SERIES[i] + ' band', data: toPts(series[i]),
    borderColor: HALO[SERIES[i]], backgroundColor: HALO[SERIES[i]], borderWidth: mainW + (row.isE ? 5 : 4)
  }, base));

  const yTicks = {
    display: left,
    color: '#444',
    font: {family: FONT, size: 8},
    padding: row.isE ? 7 : 11,
    autoSkip: false,
    callback: (v) => {
      if (row.labelVals) {
        return row.labelVals.some(l => Math.abs(l - v) < 1e-6) ? String(Math.round(v * 100) / 100) : '';
      }
      return String(Math.round(v * 100) / 100);
    }
  };
  if (row.step) yTicks.stepSize = row.step;

  const gridStyle = {color: '#333', lineWidth: 1, drawTicks: false};

  return new Chart(cv, {
    type: 'line',
    data: {datasets: mains.concat(halos)},
    options: {
      responsive: false,
      animation: false,
      devicePixelRatio: 1,
      events: [],
      layout: {padding: {left: 0, right: padR, top: 8, bottom: cvH - 8 - panelH}},
      plugins: {
        legend: {display: false},
        tooltip: {enabled: false},
        decor: {
          days, labels, gap: row.gap, legend: !!row.isE,
          timeTicks: !!(row.isE || row.isBottom),
          marks: left ? LEFT_MARK_DAYS : [],
          smallDates: !!row.isE, bigDates: !!row.isBottom
        }
      },
      scales: {
        x: {
          type: 'linear', min: range[0], max: range[1],
          afterBuildTicks: (ax) => {
            const t = [];
            for (let i = 0; i <= nDiv; i++) t.push({value: range[0] + i * (range[1] - range[0]) / nDiv});
            ax.ticks = t;
          },
          afterFit: (s) => { s.height = 0; },
          ticks: {display: false},
          grid: gridStyle,
          border: {display: false, dash: [1, 2.5]}
        },
        y: {
          min: row.min, max: row.max,
          afterBuildTicks: row.fixedTicks ? (ax) => { ax.ticks = row.fixedTicks.map(v => ({value: v})); } : undefined,
          afterFit: (s) => { s.width = yW; },
          ticks: yTicks,
          grid: gridStyle,
          border: {display: false, dash: [1, 2.5]}
        }
      }
    },
    plugins: [decor]
  });
}

ROWS.forEach(r => { makeChart(r, 'L'); makeChart(r, 'R'); });
</script>
</body></html>
